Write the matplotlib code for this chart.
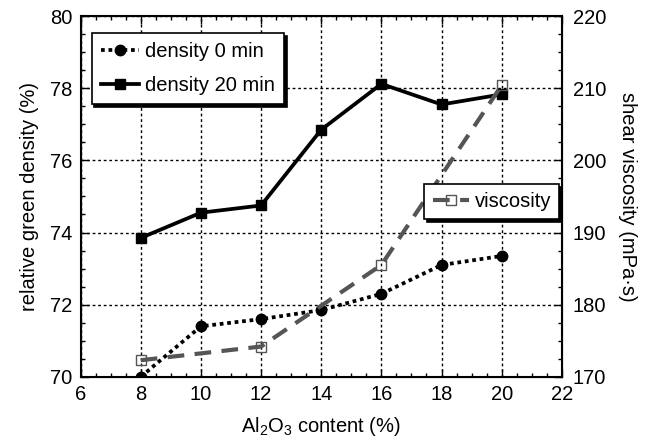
import matplotlib
matplotlib.use("Agg")
import matplotlib.pyplot as plt
from matplotlib.ticker import MultipleLocator

plt.rcParams['font.family'] = ['Liberation Sans', 'DejaVu Sans']
plt.rcParams['mathtext.fontset'] = 'custom'
plt.rcParams['mathtext.rm'] = 'Liberation Sans'

x_density = [8, 10, 12, 14, 16, 18, 20]
density_0 = [70.0, 71.4, 71.6, 71.85, 72.3, 73.1, 73.35]
density_20 = [73.85, 74.55, 74.75, 76.85, 78.12, 77.55, 77.83]
x_visc = [8, 12, 16, 20]
viscosity = [172.3, 174.2, 185.5, 210.4]

fs = 14.5
fig = plt.figure(figsize=(6.45, 4.47), dpi=100)
ax = fig.add_axes([0.125, 0.157, 0.746, 0.807])
ax2 = ax.twinx()

l1, = ax.plot(x_density, density_0, color='black', linestyle=(0, (1, 1)), lw=2.7,
              marker='o', ms=7.5, label='density 0 min')
l2, = ax.plot(x_density, density_20, color='black', linestyle='-', lw=2.7,
              marker='s', ms=7.5, label='density 20 min')
l3, = ax2.plot(x_visc, viscosity, color='#555555', linestyle=(0, (4, 2.5)), lw=3,
               marker='s', ms=7, mfc='none', mec='#555555', mew=1, label='viscosity')

ax.set_xlim(6, 22)
ax.set_ylim(70, 80)
ax2.set_ylim(170, 220)
ax.xaxis.set_major_locator(MultipleLocator(2))
ax.xaxis.set_minor_locator(MultipleLocator(0.5))
ax.yaxis.set_major_locator(MultipleLocator(2))
ax.yaxis.set_minor_locator(MultipleLocator(0.5))
ax2.yaxis.set_major_locator(MultipleLocator(10))
ax2.yaxis.set_minor_locator(MultipleLocator(2.5))

ax.grid(True, which='major', color='black', linestyle=(0, (2, 2)), lw=1)
ax.tick_params(which='both', direction='in', top=True, right=False, labelsize=fs, pad=6)
ax.tick_params(which='major', length=6, width=1)
ax.tick_params(which='minor', length=3, width=1)
ax2.tick_params(which='both', direction='in', labelsize=fs, pad=8)
ax2.tick_params(which='major', length=6, width=1)
ax2.tick_params(which='minor', length=3, width=1)
for sp in ax.spines.values():
    sp.set_linewidth(1.5)

ax.set_xlabel(r'Al$_{\mathregular{2}}$O$_{\mathregular{3}}$ content (%)', fontsize=fs, labelpad=8)
ax.set_ylabel('relative green density (%)', fontsize=fs, labelpad=8)
ax2.set_ylabel('shear viscosity (mPa·s)', fontsize=fs, rotation=-90, labelpad=22)

leg1 = ax.legend(handles=[l1, l2], loc='upper left', bbox_to_anchor=(0.023, 0.953),
                 fontsize=fs, fancybox=False, shadow={'color': 'black', 'alpha': 1},
                 edgecolor='black', framealpha=1, handlelength=1.9, handletextpad=0.3,
                 borderaxespad=0, labelspacing=0.75, borderpad=0.45)
leg1.get_frame().set_linewidth(1.2)
leg2 = ax2.legend(handles=[l3], loc='upper right', bbox_to_anchor=(0.995, 0.535),
                  fontsize=fs, fancybox=False, shadow={'color': 'black', 'alpha': 1},
                  edgecolor='black', framealpha=1, handlelength=1.8, handletextpad=0.3,
                  borderaxespad=0, borderpad=0.4)
leg2.get_frame().set_linewidth(1.2)

fig.savefig('out.png', dpi=100)
